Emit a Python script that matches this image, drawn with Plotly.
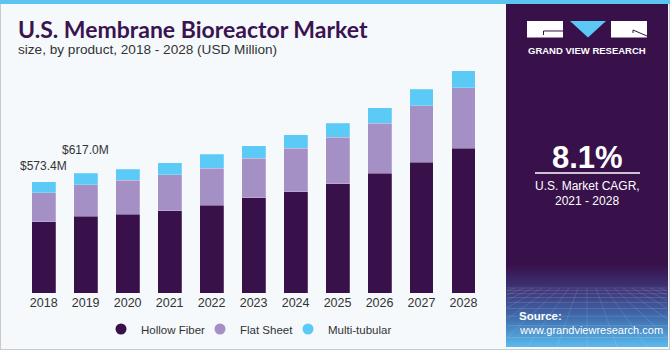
import plotly.graph_objects as go

years = ["2018", "2019", "2020", "2021", "2022", "2023", "2024", "2025", "2026", "2027", "2028"]
hollow_fiber = [368, 397, 406, 425, 452, 490, 523, 562, 617, 673, 745]
flat_sheet = [149, 160, 176, 185, 190, 204, 223, 240, 257, 290, 311]
multi_tubular = [56.4, 60.0, 55, 62, 74, 65, 70, 72, 81, 85, 89]
series_names = ["Hollow Fiber", "Flat Sheet", "Multi-tubular"]
series_colors = ["#38114b", "#a590c6", "#5ccaf6"]
labelled = {"2018": "$573.4M", "2019": "$617.0M"}
label_shift = {"2018": 16, "2019": 23}

W, H = 670, 350
def px(x):
    return x / W
def py(y):
    return 1 - y / H

FONT = "Liberation Sans, Arial, sans-serif"

fig = go.Figure()
for name, vals, col in zip(series_names, [hollow_fiber, flat_sheet, multi_tubular], series_colors):
    fig.add_trace(go.Bar(x=years, y=vals, name=name,
                         marker=dict(color=col, line=dict(width=0.6, color="rgba(255,255,255,0.35)")),
                         width=0.57, showlegend=False, hoverinfo="x+y+name"))
# legend entries with circle markers, each in its own legend for exact placement
legend_ids = ["legend", "legend2", "legend3"]
for name, col, lid in zip(series_names, series_colors, legend_ids):
    fig.add_trace(go.Scatter(x=[None], y=[None], mode="markers", name=name, legend=lid,
                             marker=dict(symbol="circle", size=11, color=col)))

totals = [a + b + c for a, b, c in zip(hollow_fiber, flat_sheet, multi_tubular)]
annotations = []
for i, (yr, tot) in enumerate(zip(years, totals)):
    if yr in labelled:
        annotations.append(dict(x=i, y=tot, xref="x", yref="y", text=labelled[yr], showarrow=False,
                                xanchor="center", yanchor="middle", yshift=label_shift[yr],
                                font=dict(family=FONT, size=12, color="#333333")))

# Titles
annotations.append(dict(x=px(16), y=py(29), xref="paper", yref="paper", xanchor="left", yanchor="middle",
                        text="<b>U.S. Membrane Bioreactor Market</b>", showarrow=False,
                        font=dict(family="Lato, Liberation Sans, sans-serif", size=23, weight=900, color="#3a1450")))
annotations.append(dict(x=px(16), y=py(49), xref="paper", yref="paper", xanchor="left", yanchor="middle",
                        text="size, by product, 2018 - 2028 (USD Million)", showarrow=False,
                        font=dict(family=FONT, size=13.6, color="#333333")))

# Right panel texts
cx = 587
annotations += [
    dict(x=px(cx), y=py(51), xref="paper", yref="paper", text="<b>GRAND VIEW RESEARCH</b>", showarrow=False,
         xanchor="center", yanchor="middle", font=dict(family=FONT, size=9.5, color="#ffffff")),
    dict(x=px(cx), y=py(157), xref="paper", yref="paper", text="<b>8.1%</b>", showarrow=False,
         xanchor="center", yanchor="middle", font=dict(family=FONT, size=31, color="#ffffff")),
    dict(x=px(cx), y=py(186), xref="paper", yref="paper", text="U.S. Market CAGR,", showarrow=False,
         xanchor="center", yanchor="middle", font=dict(family=FONT, size=12, color="#ffffff")),
    dict(x=px(cx), y=py(201), xref="paper", yref="paper", text="2021 - 2028", showarrow=False,
         xanchor="center", yanchor="middle", font=dict(family=FONT, size=12, color="#ffffff")),
    dict(x=px(517), y=py(316), xref="paper", yref="paper", text="<b>Source:</b>", showarrow=False,
         xanchor="left", yanchor="middle", font=dict(family=FONT, size=11.5, color="#ffffff")),
    dict(x=px(517), y=py(330), xref="paper", yref="paper", text="www.grandviewresearch.com", showarrow=False,
         xanchor="left", yanchor="middle", font=dict(family=FONT, size=11, color="#ffffff")),
]

shapes = []
# outer border
shapes.append(dict(type="rect", xref="paper", yref="paper", x0=0, x1=1, y0=0, y1=1,
                   line=dict(color="#c9cacc", width=2), fillcolor="rgba(0,0,0,0)", layer="below"))
# panel
shapes.append(dict(type="rect", xref="paper", yref="paper", x0=px(506), x1=px(668), y0=py(347), y1=py(4),
                   line=dict(width=0), fillcolor="#38114b", layer="below"))
# gradient at panel bottom
stops = [(265, (56, 17, 75)), (292, (62, 58, 125)), (318, (64, 110, 175)), (347, (92, 186, 236))]
def colat(y):
    for (y0, c0), (y1, c1) in zip(stops[:-1], stops[1:]):
        if y0 <= y <= y1:
            t = (y - y0) / (y1 - y0)
            return "rgb(%d,%d,%d)" % tuple(round(a + (b - a) * t) for a, b in zip(c0, c1))
    return "rgb(%d,%d,%d)" % stops[-1][1]
n = 41
for i in range(n):
    y0 = 265 + (347 - 265) * i / n
    y1 = 265 + (347 - 265) * (i + 1) / n
    shapes.append(dict(type="rect", xref="paper", yref="paper", x0=px(506), x1=px(668), y0=py(y1), y1=py(y0 - 0.3),
                       line=dict(width=0), fillcolor=colat((y0 + y1) / 2), layer="below"))
# faint perspective grid
gy = 288
step = 2.5
while gy < 347:
    shapes.append(dict(type="line", xref="paper", yref="paper", x0=px(507), x1=px(667), y0=py(gy), y1=py(gy),
                       line=dict(color="rgba(255,255,255,0.18)", width=0.7), layer="below"))
    gy += step
    step *= 1.25
for k in range(-14, 15):
    xa = cx + k * 9
    xb = cx + k * 30
    ya, yb = 288, 347
    if xb < 507:
        t = (507 - xa) / (xb - xa)
        if t < 0:
            continue
        xb, yb = 507, ya + (yb - ya) * t
    if xb > 667:
        t = (667 - xa) / (xb - xa)
        if t < 0:
            continue
        xb, yb = 667, ya + (yb - ya) * t
    if xa < 507 or xa > 667:
        continue
    shapes.append(dict(type="line", xref="paper", yref="paper", x0=px(xa), x1=px(xb), y0=py(ya), y1=py(yb),
                       line=dict(color="rgba(255,255,255,0.16)", width=0.7), layer="below"))
# top cyan strip
shapes.append(dict(type="rect", xref="paper", yref="paper", x0=0, x1=1, y0=py(4), y1=1,
                   line=dict(width=0), fillcolor="#5bc5ef", layer="above"))
# logo
shapes.append(dict(type="rect", xref="paper", yref="paper", x0=px(527), x1=px(563), y0=py(37.5), y1=py(21),
                   line=dict(width=0), fillcolor="#ffffff"))
shapes.append(dict(type="path", xref="paper", yref="paper",
                   path="M %f,%f L %f,%f L %f,%f" % (px(563), py(31), px(543.5), py(31), px(543.5), py(35)),
                   line=dict(color="#38114b", width=1)))
shapes.append(dict(type="path", xref="paper", yref="paper",
                   path="M %f,%f L %f,%f L %f,%f Z" % (px(570), py(21), px(606), py(21), px(588), py(37.5)),
                   line=dict(width=0), fillcolor="#5bc8f5"))
shapes.append(dict(type="rect", xref="paper", yref="paper", x0=px(611), x1=px(647), y0=py(37.5), y1=py(21),
                   line=dict(width=0), fillcolor="#ffffff"))
shapes.append(dict(type="path", xref="paper", yref="paper",
                   path="M %f,%f L %f,%f L %f,%f" % (px(633), py(33), px(633), py(30), px(647), py(36)),
                   line=dict(color="#38114b", width=1)))
# divider line under 8.1%
shapes.append(dict(type="line", xref="paper", yref="paper", x0=px(535), x1=px(640), y0=py(173), y1=py(173),
                   line=dict(color="#ffffff", width=1.3)))

legend_style = dict(orientation="h", yanchor="middle", xanchor="left", y=py(329),
                    font=dict(family=FONT, size=11.5, color="#333333"),
                    bgcolor="rgba(0,0,0,0)", itemclick=False, itemdoubleclick=False)

fig.update_layout(
    width=W, height=H, margin=dict(l=0, r=0, t=0, b=0),
    paper_bgcolor="#f5f9fc", plot_bgcolor="rgba(0,0,0,0)",
    barmode="stack", bargap=0.43,
    xaxis=dict(type="category", domain=[px(22.7), px(484.5)], range=[-0.5, 10.5], showgrid=False,
               zeroline=False, showline=False, ticks="",
               tickfont=dict(family=FONT, size=12.5, color="#333333"), fixedrange=True),
    yaxis=dict(domain=[py(293.3), py(60)], range=[0, 233.3 * 5.14], showgrid=False, zeroline=False,
               showline=False, showticklabels=False, ticks="", fixedrange=True),
    legend=dict(legend_style, x=px(101)),
    legend2=dict(legend_style, x=px(200)),
    legend3=dict(legend_style, x=px(288)),
    annotations=annotations, shapes=shapes, showlegend=True,
)

fig.write_html("out.html")
